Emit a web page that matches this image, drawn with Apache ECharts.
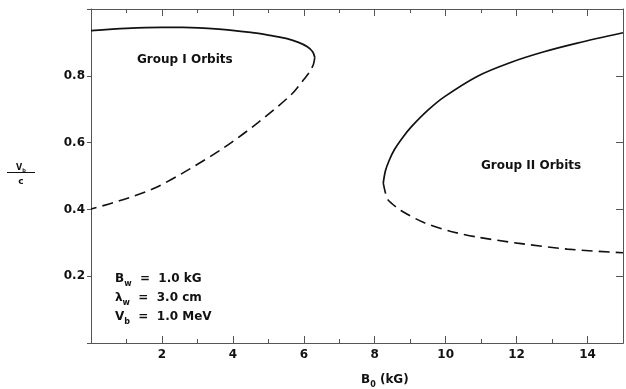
<!DOCTYPE html>
<html>
<head>
<meta charset="utf-8">
<script src="https://cdn.jsdelivr.net/npm/echarts@6/dist/echarts.min.js"></script>
<style>
html,body{margin:0;padding:0;background:#fff;}
#c{width:626px;height:389px;}
</style>
</head>
<body>
<div id="c"></div>
<script>
// ---- data ----
var xTickLabels = ['2', '4', '6', '8', '10', '12', '14'];
var yTickLabels = ['0.2', '0.4', '0.6', '0.8'];

var group1Solid = [[0,0.935],[1,0.942],[2,0.945],[2.6,0.945],[3.6,0.940],[4.5,0.930],[5.0,0.922],[5.5,0.912],[5.85,0.900],[6.1,0.887],[6.25,0.872],[6.31,0.855]];
var group1Dashed = [[6.31,0.855],[6.27,0.834],[6.16,0.811],[6.0,0.789],[5.65,0.744],[4.7,0.659],[3.75,0.585],[2.75,0.519],[1.8,0.464],[0.9,0.429],[0,0.401]];
var group2Solid = [[8.24,0.479],[8.3,0.515],[8.4,0.545],[8.56,0.580],[8.8,0.617],[9.03,0.647],[9.5,0.697],[9.96,0.737],[10.9,0.799],[11.83,0.840],[12.77,0.872],[13.71,0.898],[15,0.929]];
var group2Dashed = [[8.24,0.479],[8.3,0.450],[8.37,0.429],[8.75,0.396],[9.4,0.360],[10.15,0.334],[10.9,0.317],[12.02,0.299],[13.43,0.281],[15,0.270]];

var FONT = 'DejaVu Sans';
var INK = '#111';
var AXIS = '#555';

var chart = echarts.init(document.getElementById('c'), null, {renderer: 'canvas'});

function xFmt(v) { var s = String(Math.round(v)); return xTickLabels.indexOf(s) >= 0 && Math.abs(v - Math.round(v)) < 1e-6 ? s : ''; }
function yFmt(v) { var s = v.toFixed(1); return yTickLabels.indexOf(s) >= 0 ? s : ''; }

var labelStyle = {fontFamily: FONT, fontWeight: 'bold', fontSize: 12, color: INK};
var richMain = {fontFamily: FONT, fontWeight: 'bold', fontSize: 12, fill: INK, lineHeight: 14, verticalAlign: 'top'};
var richSub = {fontFamily: FONT, fontWeight: 'bold', fontSize: 8, fill: INK, lineHeight: 8, verticalAlign: 'top', padding: [7, 0, 0, 0]};

function xAx(pos, interval, len, labels) {
  return {
    type: 'value', min: 0, max: 15, interval: interval, position: pos,
    axisLine: {show: true, onZero: false, lineStyle: {color: AXIS, width: 1}},
    axisTick: {show: true, inside: true, length: len, lineStyle: {color: AXIS}},
    splitLine: {show: false},
    axisLabel: labels ? Object.assign({formatter: xFmt, margin: 6}, labelStyle) : {show: false}
  };
}

var option = {
  backgroundColor: '#fff',
  animation: false,
  grid: {left: 91, right: -3, top: 9, bottom: 46},
  xAxis: [
    xAx('bottom', 2, 7, true),
    xAx('top', 2, 7, false),
    xAx('bottom', 1, 4, false),
    xAx('top', 1, 4, false)
  ],
  yAxis: [{
    type: 'value', min: 0, max: 1, interval: 0.2, position: 'left',
    axisLine: {show: true, onZero: false, lineStyle: {color: AXIS, width: 1}},
    axisTick: {show: true, inside: false, length: 4, lineStyle: {color: AXIS}},
    splitLine: {show: false},
    axisLabel: Object.assign({formatter: yFmt, margin: 6}, labelStyle)
  }, {
    type: 'value', min: 0, max: 1, interval: 0.2, position: 'right',
    axisLine: {show: true, onZero: false, lineStyle: {color: AXIS, width: 1}},
    axisTick: {show: true, inside: true, length: 7, lineStyle: {color: AXIS}},
    splitLine: {show: false},
    axisLabel: {show: false}
  }],
  series: [
    {type: 'line', data: group1Solid, showSymbol: false, smooth: 0.3, lineStyle: {color: INK, width: 1.7, type: 'solid'}},
    {type: 'line', data: group1Dashed, showSymbol: false, smooth: 0.3, lineStyle: {color: INK, width: 1.6, type: [11, 6]}},
    {type: 'line', data: group2Solid, showSymbol: false, smooth: 0.3, lineStyle: {color: INK, width: 1.7, type: 'solid'}},
    {type: 'line', data: group2Dashed, showSymbol: false, smooth: 0.25, lineStyle: {color: INK, width: 1.6, type: [11, 6]}}
  ],
  graphic: [
    {type: 'text', x: 137, y: 60, style: {text: 'Group I Orbits', font: 'bold 12px "' + FONT + '"', fill: INK, verticalAlign: 'middle'}},
    {type: 'text', x: 481, y: 166, style: {text: 'Group II Orbits', font: 'bold 12px "' + FONT + '"', fill: INK, verticalAlign: 'middle'}},
    {type: 'text', x: 115, y: 273, style: {text: '{m|B}{s|w}{m|  =  1.0 kG}', rich: {m: richMain, s: richSub}}},
    {type: 'text', x: 115, y: 292, style: {text: '{m|λ}{s|w}{m|  =  3.0 cm}', rich: {m: richMain, s: richSub}}},
    {type: 'text', x: 115, y: 311, style: {text: '{m|V}{s|b}{m|  =  1.0 MeV}', rich: {m: richMain, s: richSub}}},
    // y-axis name as a fraction v_b / c
    {type: 'text', x: 21, y: 164, style: {text: '{m|V}{s|b}', align: 'center', rich: {
      m: {fontFamily: FONT, fontWeight: 'bold', fontSize: 8, fill: INK, lineHeight: 9, verticalAlign: 'top'},
      s: {fontFamily: FONT, fontWeight: 'bold', fontSize: 5, fill: INK, lineHeight: 5, verticalAlign: 'top', padding: [4, 0, 0, 0]}}}},
    {type: 'line', shape: {x1: 7, y1: 172.5, x2: 35, y2: 172.5}, style: {stroke: INK, lineWidth: 1}},
    {type: 'text', x: 21, y: 182, style: {text: 'c', font: 'bold 9px "' + FONT + '"', fill: INK, align: 'center', verticalAlign: 'middle'}},
    // x-axis name B_0 (kG)
    {type: 'text', x: 361, y: 374, style: {text: '{m|B}{s|0}{m| (kG)}', rich: {m: richMain, s: richSub}}}
  ]
};
chart.setOption(option);
</script>
</body>
</html>
